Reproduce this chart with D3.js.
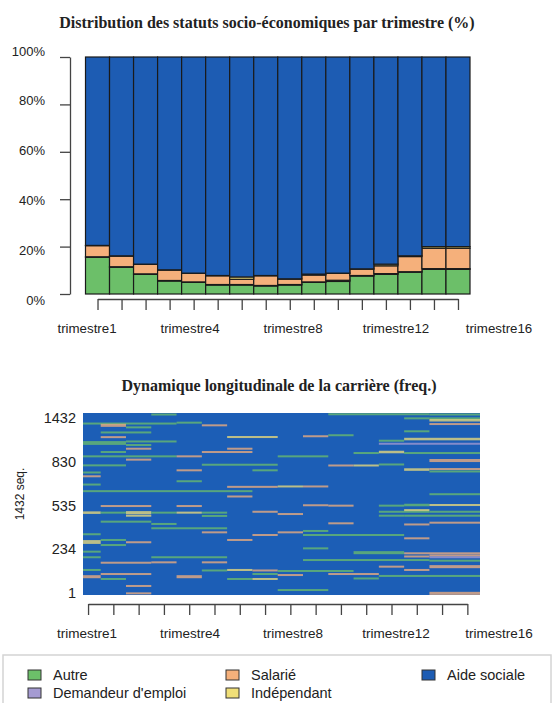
<!DOCTYPE html>
<html>
<head>
<meta charset="utf-8">
<script src="https://cdn.jsdelivr.net/npm/d3@7"></script>
<style>
body{margin:0;background:#fff;}
text{font-family:"Liberation Sans",Arial,sans-serif;fill:#222;}
.title{font-family:"Liberation Serif","Times New Roman",serif;font-weight:bold;font-size:16px;}
.axis path,.axis line{stroke:#444;stroke-width:1.3;}
</style>
</head>
<body>
<svg id="chart"></svg>
<script>
// trimestres et libellés
var quarters = d3.range(1, 17).map(function(i){ return "trimestre" + i; });
var quarterLabels = ["trimestre1", "trimestre4", "trimestre8", "trimestre12", "trimestre16"];
var pctTicks = [0, 20, 40, 60, 80, 100];
var pctLabels = ["0%", "20%", "40%", "60%", "80%", "100%"];
var seqLabels = ["1", "234", "535", "830", "1432"];
var nSeq = 1432;

var states = ["Autre", "Demandeur d'emploi", "Salarié", "Indépendant", "Aide sociale"];
var stateKeys = ["A", "D", "S", "I", "W"];
var stateColors = ["#6cbf69", "#a59bd2", "#f5b07b", "#f0df78", "#1d5cb3"];

// distribution (%) par trimestre
var autre       = [15.5, 11.3, 8.3, 5.5, 4.9, 3.8, 3.8, 3.4, 3.8, 4.9, 5.3, 7.6, 8.3, 9.2, 10.4, 10.4];
var demandeur   = [0.2, 0.2, 0.2, 0.2, 0.2, 0.2, 0.2, 0.2, 0.2, 0.2, 0.5, 0.2, 0.3, 0.2, 0.3, 0.3];
var salarie     = [4.7, 4.5, 4.0, 4.4, 3.6, 3.7, 2.2, 4.1, 2.3, 2.9, 2.9, 2.7, 3.3, 6.4, 8.6, 8.6];
var independant = [0.1, 0.1, 0.1, 0.1, 0.1, 0.1, 1.0, 0.1, 0.1, 0.4, 0.1, 0.1, 0.7, 0.3, 0.7, 0.7];

// tapis de séquences : [séquence, trimestre début, trimestre fin, état, nb de séquences]
// (le reste est "Aide sociale")
var seqSegments = [
  [1420, 4, 4, "A", 12], [1422, 11, 14, "A", 12], [1420, 15, 16, "A", 12],
  [1390, 14, 14, "A", 12], [1390, 15, 16, "A", 12], [1375, 15, 16, "I", 20],
  [1356, 5, 5, "A", 12], [1349, 1, 4, "A", 12], [1345, 15, 16, "S", 12],
  [1335, 2, 2, "S", 24], [1335, 6, 6, "S", 12], [1319, 3, 3, "A", 12],
  [1288, 14, 14, "A", 12], [1279, 2, 3, "A", 12], [1249, 10, 10, "S", 14],
  [1257, 11, 11, "A", 12], [1242, 2, 2, "S", 14], [1243, 7, 8, "I", 16],
  [1227, 14, 16, "I", 20], [1214, 13, 13, "A", 12], [1196, 1, 2, "A", 30],
  [1208, 3, 4, "A", 12], [1190, 13, 16, "D", 14], [1180, 3, 3, "A", 12],
  [1151, 3, 3, "S", 14], [1151, 7, 7, "S", 14], [1125, 2, 2, "A", 12],
  [1125, 6, 7, "S", 12], [1125, 13, 13, "I", 20], [1117, 12, 12, "A", 12],
  [1117, 14, 16, "A", 12], [1091, 1, 4, "A", 12], [1091, 5, 5, "S", 12],
  [1091, 9, 10, "A", 12], [1065, 3, 3, "S", 14], [1058, 15, 16, "S", 24],
  [1025, 6, 8, "A", 12], [1020, 1, 2, "A", 12], [1019, 11, 11, "S", 14],
  [1019, 12, 12, "I", 14], [1027, 13, 13, "A", 12], [987, 14, 14, "I", 20],
  [991, 15, 16, "S", 14], [972, 15, 16, "A", 12], [981, 5, 5, "S", 14],
  [981, 8, 8, "A", 12], [964, 1, 1, "A", 12], [934, 1, 1, "S", 14],
  [895, 5, 5, "A", 12], [869, 1, 1, "A", 12], [851, 7, 8, "S", 14],
  [854, 9, 9, "I", 14], [854, 10, 10, "S", 14], [817, 1, 7, "A", 12],
  [793, 15, 16, "A", 12], [775, 7, 7, "S", 14],
  [700, 2, 3, "S", 14], [700, 5, 5, "S", 14], [706, 10, 10, "S", 14],
  [703, 11, 11, "S", 12], [703, 13, 13, "A", 12], [708, 14, 14, "A", 20],
  [708, 15, 16, "I", 16], [648, 1, 1, "I", 20], [648, 2, 2, "A", 12],
  [648, 3, 3, "I", 24], [648, 4, 4, "A", 12], [648, 5, 5, "I", 16],
  [648, 6, 6, "A", 12], [655, 8, 8, "S", 12], [655, 13, 14, "A", 12],
  [668, 14, 14, "I", 14], [655, 15, 16, "A", 12], [637, 9, 9, "S", 12],
  [624, 3, 3, "I", 14], [622, 6, 6, "A", 12], [624, 13, 13, "A", 12],
  [624, 14, 16, "A", 16], [577, 2, 3, "A", 12], [559, 4, 4, "A", 12],
  [564, 11, 11, "S", 14], [555, 14, 14, "S", 14], [569, 15, 16, "S", 14],
  [525, 4, 6, "A", 12], [493, 6, 6, "S", 14], [504, 10, 10, "A", 12],
  [493, 9, 9, "S", 12], [478, 1, 1, "A", 12], [472, 8, 8, "S", 14],
  [472, 10, 13, "A", 12], [446, 14, 14, "S", 14], [433, 7, 7, "S", 14],
  [417, 1, 1, "I", 30], [433, 2, 2, "A", 12], [393, 2, 2, "A", 12],
  [415, 3, 3, "S", 14], [367, 10, 10, "A", 14], [341, 1, 1, "A", 12],
  [333, 12, 13, "A", 24], [328, 14, 16, "S", 16], [303, 14, 14, "S", 14],
  [311, 15, 16, "S", 14], [297, 15, 16, "D", 14], [297, 1, 1, "A", 12],
  [297, 4, 6, "A", 12], [275, 10, 14, "A", 12], [270, 15, 16, "A", 12],
  [254, 2, 3, "S", 14], [257, 4, 4, "S", 14], [257, 6, 6, "S", 14],
  [223, 13, 13, "S", 14], [223, 15, 16, "S", 24], [197, 1, 1, "A", 12],
  [193, 6, 6, "A", 12], [197, 7, 7, "I", 16], [193, 8, 8, "S", 14],
  [197, 14, 14, "S", 14], [189, 9, 11, "A", 12], [165, 2, 3, "S", 14],
  [165, 8, 8, "A", 12], [165, 11, 12, "S", 14], [157, 9, 9, "S", 14],
  [144, 1, 1, "S", 24], [144, 5, 5, "S", 24], [150, 13, 16, "A", 12],
  [130, 12, 12, "A", 12], [126, 2, 2, "A", 12], [126, 7, 7, "A", 12],
  [126, 8, 8, "I", 14], [71, 3, 3, "S", 14], [39, 9, 10, "A", 12],
  [13, 3, 3, "S", 14], [13, 15, 16, "S", 24]
];

var W = 554, H = 703;
var svg = d3.select("#chart").attr("width", W).attr("height", H);
svg.append("rect").attr("width", W).attr("height", H).attr("fill", "#fff");

var color = d3.scaleOrdinal().domain(stateKeys).range(stateColors);

// ---------- graphique 1 : distribution ----------
var top1 = {left: 85.5, right: 470, top: 57, bottom: 294};

svg.append("text").attr("class", "title")
   .attr("x", 267).attr("y", 28).attr("text-anchor", "middle")
   .text("Distribution des statuts socio-économiques par trimestre (%)");

var xBar = d3.scaleBand().domain(quarters).range([top1.left, top1.right]).padding(0);
var yPct = d3.scaleLinear().domain([0, 100]).range([top1.bottom, top1.top]);

var table = quarters.map(function(q, i){
  var rest = 100 - autre[i] - demandeur[i] - salarie[i] - independant[i];
  return {q: q, A: autre[i], D: demandeur[i], S: salarie[i], I: independant[i], W: rest};
});
var stacked = d3.stack().keys(stateKeys)(table);

svg.append("g").selectAll("g")
   .data(stacked)
   .enter().append("g")
   .attr("fill", function(s){ return color(s.key); })
   .selectAll("rect")
   .data(function(s){ return s; })
   .enter().append("rect")
   .attr("x", function(d){ return xBar(d.data.q); })
   .attr("width", xBar.bandwidth())
   .attr("y", function(d){ return yPct(d[1]); })
   .attr("height", function(d){ return yPct(d[0]) - yPct(d[1]); })
   .attr("stroke", "#1a1a1a")
   .attr("stroke-width", 1.2);

// axe y (R style, à gauche)
svg.append("g").attr("class", "axis")
   .attr("transform", "translate(70,0)")
   .call(d3.axisLeft(yPct).tickValues(pctTicks).tickSize(10).tickSizeOuter(0).tickFormat(""));

var yPctLab = d3.scalePoint().domain(pctLabels).range([300, 51]);
svg.append("g").selectAll("text")
   .data(pctLabels).enter().append("text")
   .attr("x", 45).attr("y", function(d){ return yPctLab(d); })
   .attr("dy", "0.35em").attr("text-anchor", "end")
   .style("font-size", "13px")
   .text(function(d){ return d; });

// axe x
var xTick1 = d3.scalePoint().domain(quarters)
   .range([xBar(quarters[0]) + xBar.bandwidth() / 2, xBar(quarters[15]) + xBar.bandwidth() / 2]);
svg.append("g").attr("class", "axis")
   .attr("transform", "translate(0,299)")
   .call(d3.axisBottom(xTick1).tickSize(11).tickSizeOuter(0).tickFormat(""));

var xLab = d3.scalePoint().domain(quarterLabels).range([87, 499]);
svg.append("g").selectAll("text")
   .data(quarterLabels).enter().append("text")
   .attr("x", function(d){ return xLab(d); }).attr("y", 328)
   .attr("dy", "0.35em").attr("text-anchor", "middle")
   .style("font-size", "13.3px")
   .text(function(d){ return d; });

// ---------- graphique 2 : tapis ----------
var p2 = {left: 83, right: 480, top: 413, bottom: 595};

svg.append("text").attr("class", "title")
   .attr("x", 279).attr("y", 391).attr("text-anchor", "middle")
   .text("Dynamique longitudinale de la carrière (freq.)");

var xSeq = d3.scaleLinear().domain([0.3, 16]).range([p2.left, p2.right]);
var ySeq = d3.scaleLinear().domain([0, nSeq]).range([p2.bottom, p2.top]);

svg.append("clipPath").attr("id", "clipSeq")
   .append("rect").attr("x", p2.left).attr("y", p2.top)
   .attr("width", p2.right - p2.left).attr("height", p2.bottom - p2.top);

var g2 = svg.append("g").attr("clip-path", "url(#clipSeq)");
g2.append("rect")
  .attr("x", p2.left).attr("y", p2.top)
  .attr("width", p2.right - p2.left).attr("height", p2.bottom - p2.top)
  .attr("fill", "#1c5eb6");

// les lignes fines restent visibles (au moins 2px)
function segH(d){ return Math.max(2, ySeq(d[0] - d[4] / 2) - ySeq(d[0] + d[4] / 2)); }
g2.selectAll("rect.seg")
  .data(seqSegments)
  .enter().append("rect").attr("class", "seg")
  .attr("x", function(d){ return xSeq(d[1] - 1); })
  .attr("width", function(d){ return xSeq(d[2]) - xSeq(d[1] - 1); })
  .attr("y", function(d){ return ySeq(d[0]) - segH(d) / 2; })
  .attr("height", segH)
  .attr("fill", function(d){ return color(d[3]); })
  .attr("opacity", 0.75);

var ySeqLab = d3.scalePoint().domain(seqLabels).range([592.7, 418.3]);
svg.append("g").selectAll("text")
   .data(seqLabels).enter().append("text")
   .attr("x", 76).attr("y", function(d){ return ySeqLab(d); })
   .attr("dy", "0.35em").attr("text-anchor", "end")
   .style("font-size", "14.5px")
   .text(function(d){ return d; });

svg.append("text")
   .attr("transform", "translate(24,494) rotate(-90)")
   .attr("text-anchor", "middle")
   .style("font-size", "12px")
   .text(nSeq + " seq.");

var xTick2 = d3.scalePoint().domain(quarters).range([xSeq(0.5), xSeq(15.5)]);
svg.append("g").attr("class", "axis")
   .attr("transform", "translate(0,604)")
   .call(d3.axisBottom(xTick2).tickSize(11).tickSizeOuter(0).tickFormat(""));

svg.append("g").selectAll("text")
   .data(quarterLabels).enter().append("text")
   .attr("x", function(d){ return xLab(d); }).attr("y", 633)
   .attr("dy", "0.35em").attr("text-anchor", "middle")
   .style("font-size", "13.5px")
   .text(function(d){ return d; });

// ---------- légende ----------
svg.append("rect")
   .attr("x", 3).attr("y", 655).attr("width", 548).attr("height", 60)
   .attr("fill", "none").attr("stroke", "#d4d4d4").attr("stroke-width", 1.5);

var legCol = [28, 226, 422];
var legRow = [675, 693];
var leg = svg.append("g").selectAll("g")
   .data(states).enter().append("g")
   .attr("transform", function(d, i){
     return "translate(" + legCol[Math.floor(i / 2)] + "," + legRow[i % 2] + ")";
   });
leg.append("rect")
   .attr("x", 0).attr("y", -5).attr("width", 13).attr("height", 10)
   .attr("fill", function(d, i){ return stateColors[i]; })
   .attr("stroke", "#333").attr("stroke-width", 1);
leg.append("text")
   .attr("x", 25).attr("dy", "0.35em")
   .style("font-size", "14.5px")
   .text(function(d){ return d; });
</script>
</body>
</html>
